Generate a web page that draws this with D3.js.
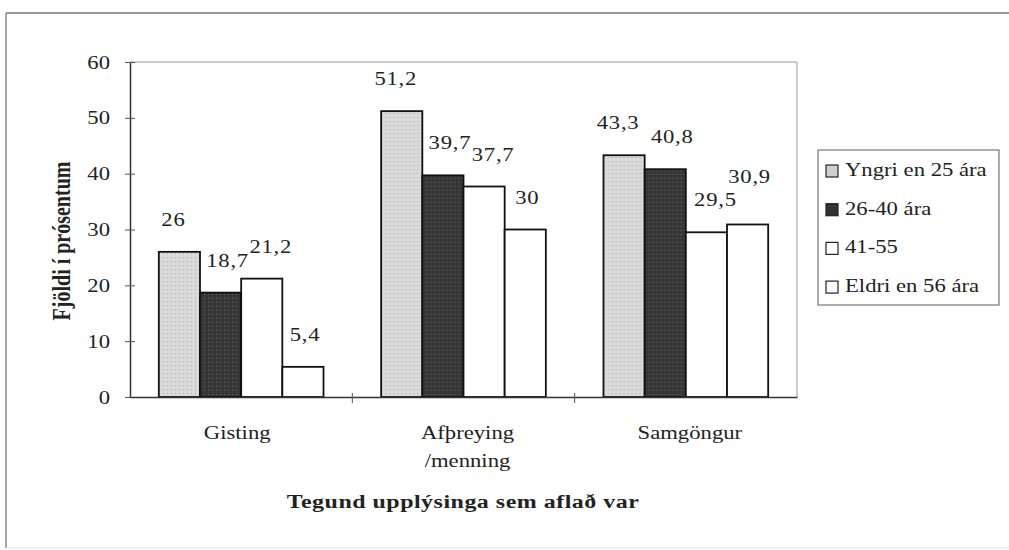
<!DOCTYPE html>
<html>
<head>
<meta charset="utf-8">
<script src="https://cdn.jsdelivr.net/npm/d3@7"></script>
<style>
  body { margin: 0; background: #fff; }
  svg text { font-family: "Liberation Serif", Tinos, "Times New Roman", "DejaVu Serif", serif; fill: #222; }
</style>
</head>
<body>
<div id="chart"></div>
<script>
// chart data
const categories = ['Gisting', 'Afþreying/menning', 'Samgöngur'];
const categoryLines = [['Gisting'], ['Afþreying', '/menning'], ['Samgöngur']];
const seriesNames = ['Yngri en 25 ára', '26-40 ára', '41-55', 'Eldri en 56 ára'];
const youngest = [26, 51.2, 43.3];
const age26to40 = [18.7, 39.7, 40.8];
const age41to55 = [21.2, 37.7, 29.5];
const oldest = [5.4, 30, 30.9];
const yTicks = [0, 10, 20, 30, 40, 50, 60];

const seriesValues = [youngest, age26to40, age41to55, oldest];
const fills = ['url(#dotLight)', 'url(#dotDark)', '#fff', '#fff'];
const legendFills = ['#cfcfcf', '#333', '#fff', '#fff'];
const labelShift = [-6, 7, 9, 2];

const width = 1009, height = 550;
const plotLeft = 130, plotRight = 797, plotTop = 62, plotBottom = 397;
const sx = 1.26; // the scanned chart is stretched sideways

const svg = d3.select('#chart').append('svg')
  .attr('width', width)
  .attr('height', height);

// place a text at x,y with the sideways stretch
function put(sel, x, y) {
  return sel.attr('transform', `translate(${x},${y}) scale(${sx},1)`);
}

// textures for the two shaded series
const defs = svg.append('defs');
const pat1 = defs.append('pattern').attr('id', 'dotLight')
  .attr('width', 4).attr('height', 4).attr('patternUnits', 'userSpaceOnUse');
pat1.append('rect').attr('width', 4).attr('height', 4).attr('fill', '#dadada');
pat1.append('rect').attr('x', 1).attr('y', 1).attr('width', 1).attr('height', 1).attr('fill', '#a8a8a8');
const pat2 = defs.append('pattern').attr('id', 'dotDark')
  .attr('width', 4).attr('height', 4).attr('patternUnits', 'userSpaceOnUse');
pat2.append('rect').attr('width', 4).attr('height', 4).attr('fill', '#363636');
pat2.append('rect').attr('x', 2).attr('y', 2).attr('width', 1).attr('height', 1).attr('fill', '#6a6a6a');

// outer frame
svg.append('line').attr('x1', 6).attr('x2', width).attr('y1', 13).attr('y2', 13)
  .attr('stroke', '#777').attr('stroke-width', 1.5);
svg.append('line').attr('x1', 6).attr('x2', 6).attr('y1', 13).attr('y2', 548)
  .attr('stroke', '#888').attr('stroke-width', 1.5);
svg.append('line').attr('x1', 6).attr('x2', width).attr('y1', 548).attr('y2', 548)
  .attr('stroke', '#ddd').attr('stroke-width', 1);

const x0 = d3.scaleBand().domain(categories).range([plotLeft, plotRight]);
const x1 = d3.scaleBand().domain(d3.range(seriesNames.length))
  .range([0, x0.bandwidth()]).paddingOuter(0.7);
const y = d3.scaleLinear().domain([0, 60]).range([plotBottom, plotTop]);

// plot area border (top and right)
svg.append('path')
  .attr('d', `M${plotLeft},${plotTop}H${plotRight}V${plotBottom}`)
  .attr('fill', 'none').attr('stroke', '#999').attr('stroke-width', 1);

// bars
const groups = svg.selectAll('.group')
  .data(categories)
  .enter().append('g')
  .attr('class', 'group')
  .attr('transform', d => `translate(${x0(d)},0)`);

groups.each(function (cat, ci) {
  const g = d3.select(this);
  let prev = null;
  seriesValues.forEach((vals, si) => {
    const v = vals[ci];
    g.append('rect')
      .attr('x', x1(si))
      .attr('y', y(v))
      .attr('width', x1.bandwidth())
      .attr('height', plotBottom - y(v))
      .attr('fill', fills[si])
      .attr('stroke', '#111')
      .attr('stroke-width', 1.8);
    const lx = x1(si) + x1.bandwidth() / 2 + labelShift[si];
    let ly = y(v) - 26;
    const label = g.append('text')
      .call(put, lx, ly)
      .attr('text-anchor', 'middle')
      .attr('font-size', 18)
      .attr('letter-spacing', 0.6)
      .text(String(v).replace('.', ','));
    // lift a label that would collide with the one before it
    let box = label.node().getBoundingClientRect();
    if (prev && box.left < prev.right && box.right > prev.left &&
        box.top < prev.bottom && box.bottom > prev.top) {
      ly -= box.bottom - prev.top + 4;
      label.call(put, lx, ly);
      box = label.node().getBoundingClientRect();
    }
    prev = box;
  });
});

// y axis
const yAxis = d3.axisLeft(y).tickValues(yTicks).tickSize(0).tickPadding(0);
const yG = svg.append('g').attr('transform', `translate(${plotLeft},0)`).call(yAxis);
yG.attr('font-family', null);
yG.select('.domain').attr('stroke', '#333').attr('stroke-width', 1.5);
yG.selectAll('.tick text')
  .attr('x', null).attr('dy', null)
  .attr('transform', `translate(-20,6) scale(${sx},1)`)
  .attr('font-size', 18);
yG.selectAll('.tick').append('line')
  .attr('x1', -5).attr('x2', 5).attr('stroke', '#555');

// x axis
const xAxis = d3.axisBottom(x0).tickSize(0).tickFormat('');
const xG = svg.append('g').attr('transform', `translate(0,${plotBottom})`).call(xAxis);
xG.select('.domain').attr('stroke', '#333').attr('stroke-width', 1.5);
svg.append('g').selectAll('line')
  .data(categories.slice(1))
  .enter().append('line')
  .attr('x1', d => x0(d)).attr('x2', d => x0(d))
  .attr('y1', plotBottom - 4).attr('y2', plotBottom + 6)
  .attr('stroke', '#555');

// category labels
const catG = svg.append('g');
categories.forEach((cat, i) => {
  categoryLines[i].forEach((line, li) => {
    catG.append('text')
      .call(put, x0(cat) + x0.bandwidth() / 2 + (i === 0 ? -4 : 4), 439 + li * 28)
      .attr('text-anchor', 'middle')
      .attr('font-size', 18)
      .text(line);
  });
});

// axis titles
svg.append('text')
  .call(put, 463, 508)
  .attr('text-anchor', 'middle')
  .attr('font-size', 19).attr('font-weight', 'bold')
  .attr('letter-spacing', 0.4)
  .text('Tegund upplýsinga sem aflað var');

svg.append('text')
  .attr('transform', `translate(70,241) rotate(-90) scale(1,${sx})`)
  .attr('text-anchor', 'middle')
  .attr('font-size', 20).attr('font-weight', 'bold')
  .text('Fjöldi í prósentum');

// legend
const legend = svg.append('g').attr('transform', 'translate(818,150)');
legend.append('rect')
  .attr('width', 181).attr('height', 155)
  .attr('fill', '#fff').attr('stroke', '#777').attr('stroke-width', 1.2);
const item = legend.selectAll('.item')
  .data(seriesNames)
  .enter().append('g')
  .attr('class', 'item')
  .attr('transform', (d, i) => `translate(8,${26 + i * 38.7})`);
item.append('rect')
  .attr('y', -11).attr('width', 12).attr('height', 12)
  .attr('fill', (d, i) => legendFills[i])
  .attr('stroke', '#222').attr('stroke-width', 1.2);
item.append('text')
  .call(put, 19, 0)
  .attr('font-size', 18)
  .text(d => d);
</script>
</body>
</html>
